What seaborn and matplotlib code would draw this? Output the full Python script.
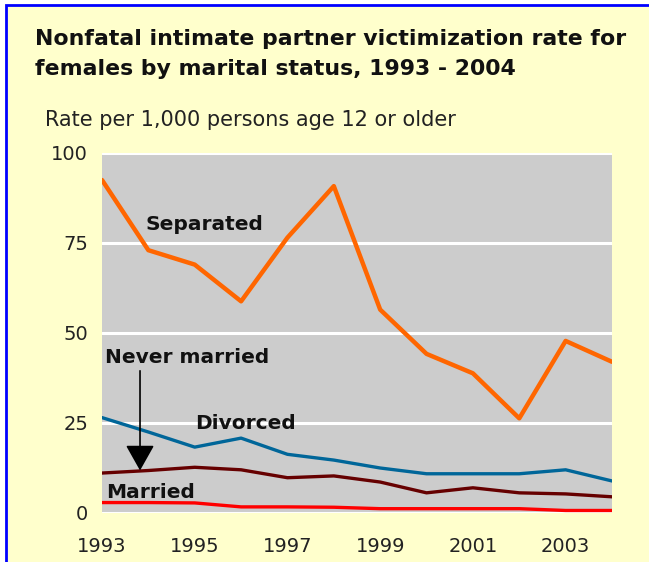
"""Nonfatal intimate partner victimization rate for females by marital status."""
import matplotlib
matplotlib.use("Agg")
import matplotlib.pyplot as plt
from matplotlib.patches import Rectangle
import pandas as pd
import seaborn as sns

years = list(range(1993, 2005))
separated = [92.5, 73.0, 69.0, 58.8, 76.5, 90.8, 56.5, 44.2, 38.8, 26.3, 47.8, 42.0]
divorced = [26.5, 22.5, 18.3, 20.8, 16.3, 14.7, 12.5, 10.9, 10.9, 10.9, 12.0, 8.9]
never_married = [11.1, 11.8, 12.7, 12.0, 9.8, 10.3, 8.6, 5.6, 7.0, 5.6, 5.3, 4.5]
married = [2.9, 2.9, 2.8, 1.7, 1.7, 1.6, 1.2, 1.2, 1.2, 1.2, 0.7, 0.7]

series_names = ["Separated", "Divorced", "Never married", "Married"]
colors = {"Separated": "#FF6600", "Divorced": "#006699",
          "Never married": "#660000", "Married": "#FF0000"}
widths = {"Separated": 3.2, "Divorced": 2.4, "Never married": 2.4, "Married": 2.4}

df = pd.DataFrame({"year": years, "Separated": separated, "Divorced": divorced,
                   "Never married": never_married, "Married": married})
long_df = df.melt(id_vars="year", var_name="status", value_name="rate")

sns.set_style("white")
plt.rcParams["font.family"] = ["DejaVu Sans"]

fig = plt.figure(figsize=(6.49, 5.62), dpi=100)
fig.patch.set_facecolor("white")
fig.patches.append(Rectangle((6 / 649, -0.1), 1.2, 1.1 - 5 / 562,
                             transform=fig.transFigure, facecolor="#FFFFCC",
                             edgecolor="#0000FF", linewidth=2, zorder=-10))

ax = fig.add_axes([102 / 649, 1 - 513 / 562, 510 / 649, 360 / 562])
ax.set_facecolor("#CCCCCC")

for y in [0, 25, 50, 75, 100]:
    ax.axhline(y, color="white", linewidth=2.2, zorder=1)

sns.lineplot(data=long_df, x="year", y="rate", hue="status",
             hue_order=series_names, palette=colors, legend=False, ax=ax,
             zorder=3)
for line, name in zip(ax.lines[5:], series_names):
    line.set_linewidth(widths[name])

ax.set_xlim(1993, 2004)
ax.set_ylim(0, 100)
ax.set_xticks(years)
ax.set_xticklabels([str(y) if y % 2 == 1 else "" for y in years])
ax.set_yticks([0, 25, 50, 75, 100])
ax.tick_params(axis="x", direction="out", length=5, width=1, color="#444444",
               pad=12, labelsize=14, labelcolor="#222222")
ax.tick_params(axis="y", length=0, pad=10, labelsize=14, labelcolor="#222222")
ax.set_xlabel("")
ax.set_ylabel("")
for s in ax.spines.values():
    s.set_visible(False)

lab = dict(fontsize=14.5, fontweight="bold", color="#111111", va="center", ha="left", zorder=5)
ax.text(1993.93, 80, "Separated", **lab)
ax.text(1993.06, 43.2, "Never married", **lab)
ax.text(1995.0, 24.8, "Divorced", **lab)
ax.text(1993.08, 5.8, "Married", **lab)
ax.annotate("", xy=(1993.82, 11.8), xytext=(1993.82, 39.5),
            arrowprops=dict(arrowstyle="-|>,head_width=0.45,head_length=0.8",
                            mutation_scale=20, color="black", lw=1.2,
                            shrinkA=0, shrinkB=0), zorder=6)

fig.text(35 / 649, 1 - 54 / 562,
         "Nonfatal intimate partner victimization rate for\nfemales by marital status, 1993 - 2004",
         fontsize=15.8, fontweight="bold", color="#111111", va="center", ha="left",
         linespacing=1.6)
fig.text(45 / 649, 1 - 120 / 562, "Rate per 1,000 persons age 12 or older",
         fontsize=15, color="#222222", va="center", ha="left")

fig.savefig("out.png", dpi=100, facecolor=fig.get_facecolor())
